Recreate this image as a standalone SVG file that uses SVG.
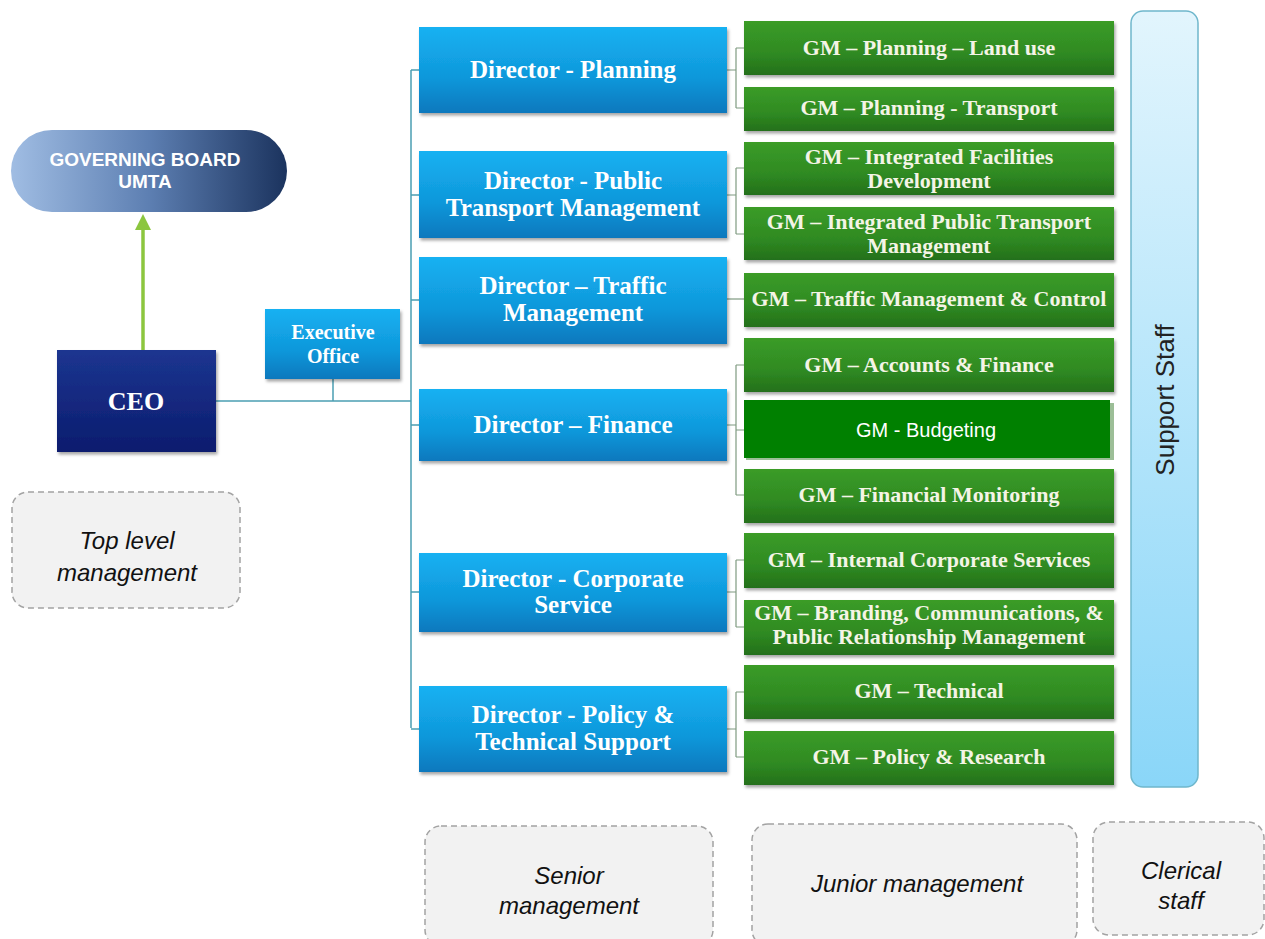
<svg xmlns="http://www.w3.org/2000/svg" width="1265" height="939" viewBox="0 0 1265 939">
<defs>
<linearGradient id="gBoard" x1="0" y1="0" x2="1" y2="0"><stop offset="0" stop-color="#a0bde3"/><stop offset="0.5" stop-color="#5d7fb2"/><stop offset="1" stop-color="#1b335e"/></linearGradient>
<linearGradient id="gCeo" x1="0" y1="0" x2="0" y2="1"><stop offset="0" stop-color="#1c3590"/><stop offset="1" stop-color="#0b1c6e"/></linearGradient>
<linearGradient id="gDir" x1="0" y1="0" x2="0" y2="1"><stop offset="0" stop-color="#16b1f2"/><stop offset="0.6" stop-color="#0f97da"/><stop offset="1" stop-color="#0b78bd"/></linearGradient>
<linearGradient id="gGm" x1="0" y1="0" x2="0" y2="1"><stop offset="0" stop-color="#3b9c28"/><stop offset="0.6" stop-color="#2f8a22"/><stop offset="1" stop-color="#24701a"/></linearGradient>
<linearGradient id="gSup" x1="0" y1="0" x2="0" y2="1"><stop offset="0" stop-color="#e2f5fd"/><stop offset="1" stop-color="#8ad6f8"/></linearGradient>
<filter id="sh" x="-10%" y="-10%" width="120%" height="130%"><feDropShadow dx="1.5" dy="2.5" stdDeviation="1.5" flood-color="#000" flood-opacity="0.35"/></filter>
</defs>
<style>
.dir{fill:url(#gDir);filter:url(#sh)}
.gm{fill:url(#gGm);filter:url(#sh)}
.dt{font-family:"Liberation Serif",serif;font-weight:bold;font-size:25px;fill:#fff;text-anchor:middle}
.gt{font-family:"Liberation Serif",serif;font-weight:bold;font-size:22px;fill:#f4f4e6;text-anchor:middle}
.lbl{fill:#f2f2f2;stroke:#a3a3a3;stroke-width:1.5;stroke-dasharray:6 4}
.lt{font-family:"Liberation Sans",Arial,sans-serif;font-style:italic;font-size:24px;fill:#111;text-anchor:middle}
.trunk{stroke:#4b9fb2;stroke-width:1.5;fill:none}
.sub{stroke:#7f9a80;stroke-width:1.2;fill:none}
</style>
<rect width="1265" height="939" fill="#fff"/>

<g id="connectors">
<line x1="143" y1="350" x2="143" y2="228" stroke="#8cc63f" stroke-width="3.5"/>
<polygon points="143,214 135,230 151,230" fill="#8cc63f"/>
<path class="trunk" d="M216 401 H411 M333 379 V401 M411 70 V728 M411 70 H419 M411 195 H419 M411 300 H419 M411 425 H419 M411 592 H419 M411 729 H419"/>
<path class="sub" d="M727 70 H736 M736 48 V108 M736 48 H744 M736 108 H744"/>
<path class="sub" d="M727 195 H736 M736 168 V234 M736 168 H744 M736 234 H744"/>
<path class="sub" d="M727 299 H744"/>
<path class="sub" d="M727 425 H736 M736 365 V495 M736 365 H744 M736 430 H744 M736 495 H744"/>
<path class="sub" d="M727 592 H736 M736 560 V627 M736 560 H744 M736 627 H744"/>
<path class="sub" d="M727 729 H736 M736 692 V757 M736 692 H744 M736 757 H744"/>
</g>

<g id="board">
<rect x="11" y="130" width="276" height="82" rx="41" fill="url(#gBoard)"/>
<text x="145" y="166" font-family="Liberation Sans,Arial,sans-serif" font-weight="bold" font-size="19" fill="#fff" text-anchor="middle">GOVERNING BOARD</text>
<text x="145" y="188" font-family="Liberation Sans,Arial,sans-serif" font-weight="bold" font-size="19" fill="#fff" text-anchor="middle">UMTA</text>
</g>

<g id="ceo">
<rect x="57" y="350" width="159" height="102" fill="url(#gCeo)" filter="url(#sh)"/>
<text x="136" y="410" font-family="Liberation Serif,serif" font-weight="bold" font-size="26" fill="#fff" text-anchor="middle">CEO</text>
</g>

<g id="exec">
<rect x="265" y="309" width="135" height="70" fill="url(#gDir)" filter="url(#sh)"/>
<text x="333" y="339" font-family="Liberation Serif,serif" font-weight="bold" font-size="20" fill="#fff" text-anchor="middle">Executive</text>
<text x="333" y="363" font-family="Liberation Serif,serif" font-weight="bold" font-size="20" fill="#fff" text-anchor="middle">Office</text>
</g>

<g id="dir-planning"><rect class="dir" x="419" y="27" width="308" height="86"/><text class="dt" x="573" y="78">Director - Planning</text></g>
<g id="dir-pt"><rect class="dir" x="419" y="151" width="308" height="87"/><text class="dt" x="573" y="189">Director - Public</text><text class="dt" x="573" y="216">Transport Management</text></g>
<g id="dir-traffic"><rect class="dir" x="419" y="257" width="308" height="87"/><text class="dt" x="573" y="294">Director – Traffic</text><text class="dt" x="573" y="321">Management</text></g>
<g id="dir-finance"><rect class="dir" x="419" y="389" width="308" height="72"/><text class="dt" x="573" y="433">Director – Finance</text></g>
<g id="dir-corporate"><rect class="dir" x="419" y="553" width="308" height="79"/><text class="dt" x="573" y="587">Director - Corporate</text><text class="dt" x="573" y="613">Service</text></g>
<g id="dir-policy"><rect class="dir" x="419" y="686" width="308" height="86"/><text class="dt" x="573" y="723">Director - Policy &amp;</text><text class="dt" x="573" y="750">Technical Support</text></g>

<g id="gm-landuse"><rect class="gm" x="744" y="21" width="370" height="54"/><text class="gt" x="929" y="55">GM – Planning – Land use</text></g>
<g id="gm-transport"><rect class="gm" x="744" y="87" width="370" height="44"/><text class="gt" x="929" y="115">GM – Planning - Transport</text></g>
<g id="gm-facilities"><rect class="gm" x="744" y="142" width="370" height="53"/><text class="gt" x="929" y="164">GM – Integrated Facilities</text><text class="gt" x="929" y="188">Development</text></g>
<g id="gm-iptm"><rect class="gm" x="744" y="207" width="370" height="53"/><text class="gt" x="929" y="229">GM – Integrated Public Transport</text><text class="gt" x="929" y="253">Management</text></g>
<g id="gm-traffic"><rect class="gm" x="744" y="273" width="370" height="54"/><text class="gt" x="929" y="306">GM – Traffic Management  &amp; Control</text></g>
<g id="gm-accounts"><rect class="gm" x="744" y="338" width="370" height="54"/><text class="gt" x="929" y="372">GM – Accounts &amp; Finance</text></g>
<g id="gm-budgeting"><rect x="746" y="403" width="368" height="57" fill="#3a7d30" opacity="0.5"/><rect x="744" y="400" width="366" height="58" fill="#008000"/><text x="926" y="437" font-family="Liberation Sans,Arial,sans-serif" font-size="20" fill="#fff" text-anchor="middle">GM - Budgeting</text></g>
<g id="gm-monitoring"><rect class="gm" x="744" y="469" width="370" height="54"/><text class="gt" x="929" y="502">GM – Financial Monitoring</text></g>
<g id="gm-internal"><rect class="gm" x="744" y="533" width="370" height="55"/><text class="gt" x="929" y="567">GM – Internal Corporate Services</text></g>
<g id="gm-branding"><rect class="gm" x="744" y="600" width="370" height="55"/><text class="gt" x="929" y="620">GM – Branding, Communications, &amp;</text><text class="gt" x="929" y="644">Public Relationship Management</text></g>
<g id="gm-technical"><rect class="gm" x="744" y="665" width="370" height="54"/><text class="gt" x="929" y="698">GM – Technical</text></g>
<g id="gm-policy"><rect class="gm" x="744" y="731" width="370" height="54"/><text class="gt" x="929" y="764">GM – Policy &amp; Research</text></g>

<g id="support">
<rect x="1131" y="11" width="67" height="776" rx="12" fill="url(#gSup)" stroke="#6fb7cc" stroke-width="1.5"/>
<text transform="translate(1174,400) rotate(-90)" x="0" y="0" font-family="Liberation Sans,Arial,sans-serif" font-size="26" fill="#222" text-anchor="middle">Support Staff</text>
</g>

<g id="lbl-top"><rect class="lbl" x="12" y="492" width="228" height="116" rx="16"/><text class="lt" x="127" y="549">Top level</text><text class="lt" x="127" y="581">management</text></g>
<g id="lbl-senior"><rect class="lbl" x="425" y="826" width="288" height="120" rx="16"/><text class="lt" x="569" y="884">Senior</text><text class="lt" x="569" y="914">management</text></g>
<g id="lbl-junior"><rect class="lbl" x="752" y="824" width="325" height="122" rx="16"/><text class="lt" x="917" y="892">Junior management</text></g>
<g id="lbl-clerical"><rect class="lbl" x="1093" y="822" width="171" height="113" rx="16"/><text class="lt" x="1181" y="879">Clerical</text><text class="lt" x="1181" y="909">staff</text></g>
</svg>
